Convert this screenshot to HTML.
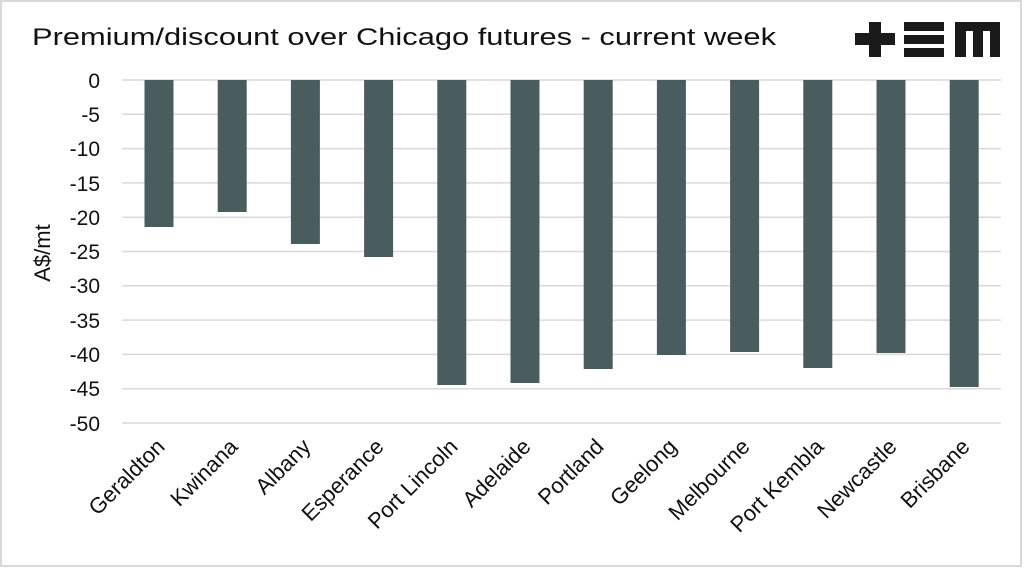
<!DOCTYPE html>
<html><head><meta charset="utf-8"><style>
html,body{margin:0;padding:0;background:#fff}
svg{display:block;font-family:"Liberation Sans",Arial,sans-serif}
</style></head><body>
<svg width="1024" height="569" viewBox="0 0 1024 569">
<rect x="1" y="1" width="1020" height="565" fill="#fff" stroke="#d9d9d9" stroke-width="2"/>
<text x="32" y="45" font-size="24" fill="#111" textLength="744" lengthAdjust="spacingAndGlyphs">Premium/discount over Chicago futures - current week</text>
<g fill="#1a1a1a">
<rect x="855" y="33" width="40" height="12"/><rect x="869" y="22" width="12" height="35"/>
<rect x="904" y="22" width="40" height="9"/><rect x="904" y="35" width="40" height="9"/><rect x="904" y="48" width="40" height="9"/>
<path d="M955 22 H1000 V57 H990 V31 H983 V57 H973 V31 H966 V57 H955 Z"/>
</g>
<g stroke="#d9d9d9" stroke-width="1.5">
<line x1="122" x2="1001" y1="80" y2="80"/><line x1="122" x2="1001" y1="114.3" y2="114.3"/><line x1="122" x2="1001" y1="148.6" y2="148.6"/><line x1="122" x2="1001" y1="182.9" y2="182.9"/><line x1="122" x2="1001" y1="217.2" y2="217.2"/><line x1="122" x2="1001" y1="251.5" y2="251.5"/><line x1="122" x2="1001" y1="285.8" y2="285.8"/><line x1="122" x2="1001" y1="320.1" y2="320.1"/><line x1="122" x2="1001" y1="354.4" y2="354.4"/><line x1="122" x2="1001" y1="388.7" y2="388.7"/><line x1="122" x2="1001" y1="423" y2="423"/>
</g>
<g font-size="21" fill="#111" text-anchor="end">
<text x="100" y="88">0</text><text x="100" y="122">-5</text><text x="100" y="156">-10</text><text x="100" y="191">-15</text><text x="100" y="225">-20</text><text x="100" y="259">-25</text><text x="100" y="293">-30</text><text x="100" y="328">-35</text><text x="100" y="362">-40</text><text x="100" y="396">-45</text><text x="100" y="431">-50</text>
</g>
<text transform="translate(50,253) rotate(-90)" font-size="22" fill="#111" text-anchor="middle">A$/mt</text>
<g fill="#4a5d5e">
<rect x="144.5" y="80" width="29" height="147"/>
<rect x="217.7" y="80" width="29" height="132"/>
<rect x="290.9" y="80" width="29" height="164"/>
<rect x="364.1" y="80" width="29" height="177"/>
<rect x="437.3" y="80" width="29" height="305"/>
<rect x="510.5" y="80" width="29" height="303"/>
<rect x="583.7" y="80" width="29" height="289"/>
<rect x="656.9" y="80" width="29" height="275"/>
<rect x="730.1" y="80" width="29" height="272"/>
<rect x="803.3" y="80" width="29" height="288"/>
<rect x="876.5" y="80" width="29" height="273"/>
<rect x="949.7" y="80" width="29" height="307"/>
</g>
<g font-size="22" fill="#111" text-anchor="end">
<text transform="translate(166,448) rotate(-45)">Geraldton</text>
<text transform="translate(239,448) rotate(-45)">Kwinana</text>
<text transform="translate(312,448) rotate(-45)">Albany</text>
<text transform="translate(385,448) rotate(-45)">Esperance</text>
<text transform="translate(459,448) rotate(-45)">Port Lincoln</text>
<text transform="translate(532,448) rotate(-45)">Adelaide</text>
<text transform="translate(605,448) rotate(-45)">Portland</text>
<text transform="translate(678,448) rotate(-45)">Geelong</text>
<text transform="translate(751,448) rotate(-45)">Melbourne</text>
<text transform="translate(825,448) rotate(-45)">Port Kembla</text>
<text transform="translate(898,448) rotate(-45)">Newcastle</text>
<text transform="translate(971,448) rotate(-45)">Brisbane</text>
</g>
</svg>
</body></html>
